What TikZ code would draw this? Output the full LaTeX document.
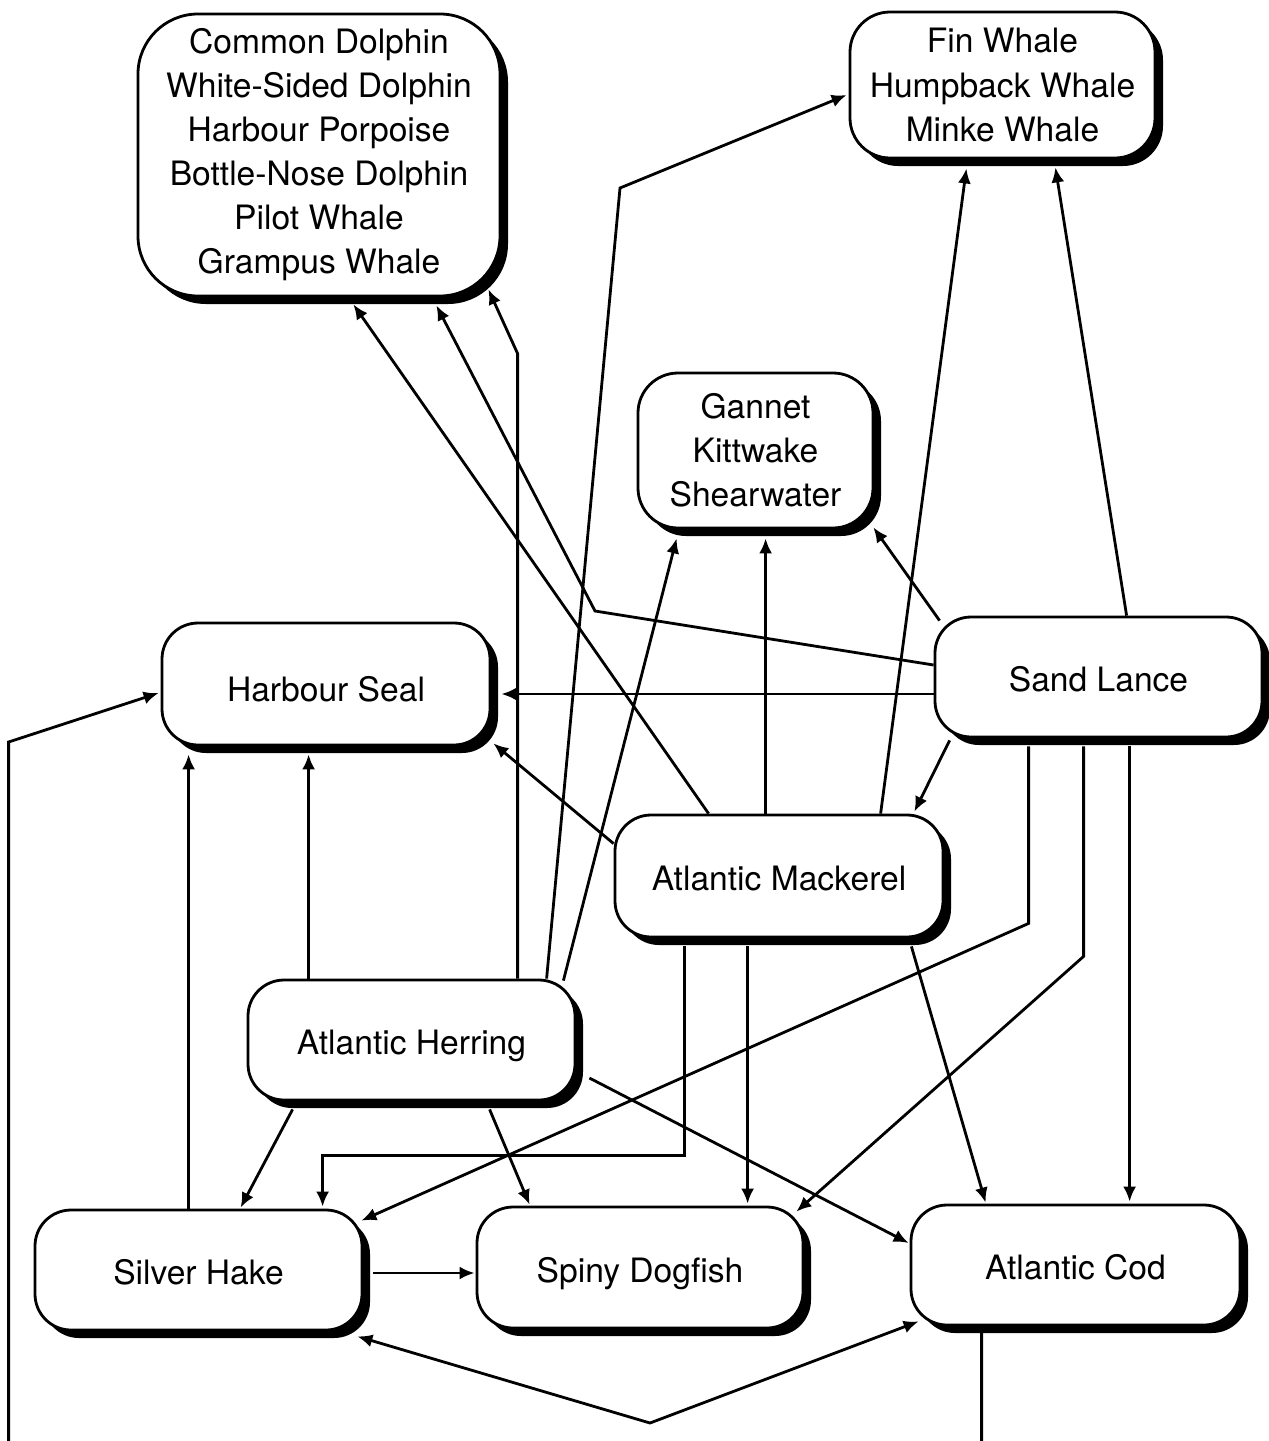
\documentclass[tikz,border=0pt]{standalone}
\usepackage{fontspec}
\setmainfont{TeX Gyre Heros}
\usetikzlibrary{arrows.meta,calc,shadows}
\tikzset{
  box/.style={draw, line width=1.4pt, rounded corners=18pt, fill=white,
    align=center, inner sep=0pt, font=\fontsize{16.8}{22}\selectfont,
    drop shadow={shadow xshift=4pt, shadow yshift=-4pt, opacity=1, fill=black}},
  oneline/.style={text height=14.5pt, text depth=0pt},
  arr/.style={-{Latex[length=7.5pt,width=6.5pt]}, line width=1.4pt, line join=miter},
  dbl/.style={{Latex[length=7.5pt,width=6.5pt]}-{Latex[length=7.5pt,width=6.5pt]}, line width=1.4pt},
  ln/.style={line width=1.4pt}
}
\begin{document}
\begin{tikzpicture}[x=0.5pt,y=-0.5pt]
\useasboundingbox (0,0) rectangle (1269,1441);
\clip (0,0) rectangle (1269,1441);
\fill[white] (0,0) rectangle (1269,1441);

% nodes
\node[box, rounded corners=30pt, minimum width=181pt, minimum height=141pt] (dol) at (319,155)
  {Common Dolphin\\White-Sided Dolphin\\Harbour Porpoise\\Bottle-Nose Dolphin\\Pilot Whale\\Grampus Whale};
\node[box, rounded corners=20pt, minimum width=152.5pt, minimum height=73pt] (wha) at (1002.5,85)
  {Fin Whale\\Humpback Whale\\Minke Whale};
\node[box, rounded corners=20pt, minimum width=117.5pt, minimum height=77.5pt] (gan) at (755.5,450.5)
  {Gannet\\Kittwake\\Shearwater};
\node[box, oneline, minimum width=163.5pt, minimum height=60pt] (sand) at (1098.5,677) {Sand Lance};
\node[box, oneline, text height=17.5pt, minimum width=164pt, minimum height=61pt] (seal) at (326,684) {Harbour Seal};
\node[box, oneline, minimum width=164pt, minimum height=61pt] (mack) at (779,876) {Atlantic Mackerel};
\node[box, oneline, minimum width=163.5pt, minimum height=60pt] (her) at (411.5,1040) {Atlantic Herring};
\node[box, oneline, minimum width=163.5pt, minimum height=60pt] (hake) at (198.5,1270) {Silver Hake};
\node[box, oneline, minimum width=163pt, minimum height=60.5pt] (dog) at (640,1267.5) {Spiny Dogfish};
\node[box, oneline, minimum width=164.5pt, minimum height=60pt] (cod) at (1075.5,1265) {Atlantic Cod};

% bend points
\coordinate (bwha) at (620,188);
\coordinate (bsd) at (595,611);
\coordinate (bhc) at (650,1423);

% connectors to the dolphins and whales
\draw[arr] ($(her.north west)+(300,0)$) -- (bwha) -- ($(wha.west)+(-2,10)$);
\draw[arr] ($(her.north west)+(271,0)$) -- ++(0,-625) -- ($(dol.south east)+(-13,-8)$);
\draw[arr] ($(sand.west)+(0,-12)$) -- (bsd) -- ($(dol.south east)+(-65,8)$);
\draw[arr] ($(mack.north west)+(95,0)$) -- ($(dol.south east)+(-148,7)$);
\draw[arr] ($(mack.north west)+(267,0)$) -- ($(wha.south east)+(-190,9)$);
\draw[arr] ($(sand.north west)+(193,0)$) -- ($(wha.south east)+(-101,8)$);

% connectors to the birds
\draw[arr] ($(her.north east)+(-13,2)$) -- ($(gan.south west)+(40,9)$);
\draw[arr] ($(mack.north west)+(152,0)$) -- ($(gan.south west)+(129,9)$);
\draw[arr] ($(sand.north west)+(6,5)$) -- ($(gan.south east)+(-1,-2)$);

% connectors to the seal
\draw[arr] ($(sand.west)+(0,17)$) -- ($(seal.east)+(10,10)$);
\draw[arr] ($(mack.north west)+(0,30)$) -- ($(seal.south east)+(2,-3)$);
\draw[arr] ($(her.north west)+(62,0)$) -- ($(seal.south west)+(148,8)$);
\draw[arr] ($(hake.north west)+(155,0)$) -- ($(seal.south west)+(28,8)$);
\draw[arr] ($(cod.south west)+(72,0)$) -- ++(0,140) -| ($(seal.west)+(-152,58)$) -- ($(seal.west)+(-2,9)$);

% sand lance to mackerel
\draw[arr] ($(sand.south west)+(16,2)$) -- ($(mack.north east)+(-30,-2)$);

% lower connectors
\draw[dbl] ($(hake.south east)+(-6,5)$) -- (bhc) -- ($(cod.south west)+(9,-5)$);
\draw[arr] ($(hake.east)+(10,3)$) -- ($(dog.west)+(-1,5.5)$);
\draw[arr] ($(her.south west)+(46,8)$) -- ($(hake.north west)+(207,-1)$);
\draw[arr] ($(her.south west)+(243,8)$) -- ($(dog.north west)+(54,-1)$);
\draw[arr] ($(her.east)+(13,38)$) -- ($(cod.west)+(-1,-22)$);
\draw[arr] ($(mack.south west)+(71,8)$) |- ($(hake.north west)+(289,-53)$) -- ($(hake.north west)+(289,-2)$);
\draw[arr] ($(mack.south west)+(134,8)$) -- ($(dog.north west)+(272,-2)$);
\draw[arr] ($(mack.south east)+(-33,8)$) -- ($(cod.north west)+(76,-1)$);
\draw[arr] ($(sand.south west)+(95,8)$) -- ++(0,177) -- ($(hake.north east)+(-2,12)$);
\draw[arr] ($(sand.south west)+(150,8)$) -- ++(0,210) -- ($(dog.north east)+(-8,6)$);
\draw[arr] ($(sand.south west)+(196,8)$) -- ($(cod.north west)+(220,-2)$);
\end{tikzpicture}
\end{document}
